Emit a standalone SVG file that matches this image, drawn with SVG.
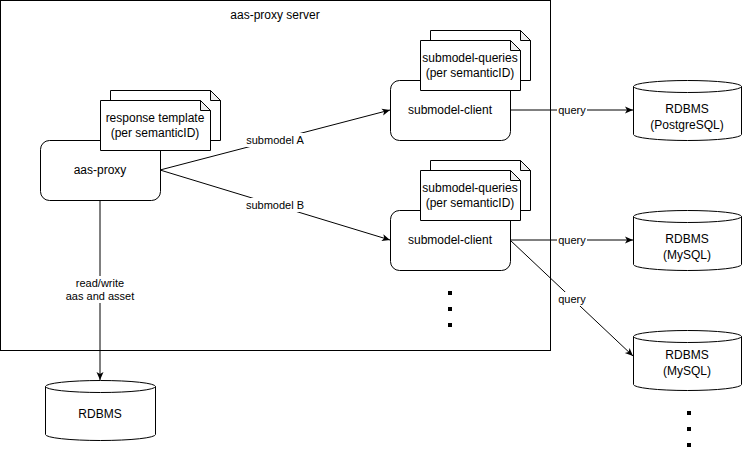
<svg xmlns="http://www.w3.org/2000/svg" width="745" height="451" viewBox="0 0 745 451">
<defs>
<style>
text{font-family:"Liberation Sans",Arial,sans-serif;fill:#000;text-anchor:middle;dominant-baseline:central}
.t12{font-size:12px}
.t11{font-size:11px}
.box{fill:#fff;stroke:#000;stroke-width:1}
.fold{fill:#f0f0f0;stroke:#000;stroke-width:1;stroke-linejoin:round}
.edge{fill:none;stroke:#000;stroke-width:1}
.lbl{fill:#fff;stroke:none}
.dot{fill:#000}
</style>
<marker id="arr" markerWidth="10" markerHeight="10" refX="9" refY="5" orient="auto" markerUnits="userSpaceOnUse">
<path d="M1,1.5 L9,5 L1,8.5 L3,5 Z" fill="#000"/>
</marker>
</defs>
<rect width="745" height="451" fill="#fff"/>

<g id="server">
<rect class="box" x="0.5" y="0.5" width="550" height="350"/>
<text class="t12" x="275" y="15">aas-proxy server</text>
</g>

<g id="connectors">
<path class="edge" d="M160,170 L390,110" marker-end="url(#arr)"/>
<path class="edge" d="M160,170 L390,240" marker-end="url(#arr)"/>
<path class="edge" d="M100,200 L100,380" marker-end="url(#arr)"/>
<path class="edge" d="M510,110 L633,110" marker-end="url(#arr)"/>
<path class="edge" d="M510,240 L633,240" marker-end="url(#arr)"/>
<path class="edge" d="M510,240 L633,356" marker-end="url(#arr)"/>
<rect class="lbl" x="246" y="133" width="58" height="14"/>
<text class="t11" x="275" y="140">submodel A</text>
<rect class="lbl" x="246" y="198" width="58" height="14"/>
<text class="t11" x="275" y="205">submodel B</text>
<rect class="lbl" x="72" y="276" width="56" height="27"/>
<text class="t11" x="100" y="283">read/write</text>
<text class="t11" x="100" y="296">aas and asset</text>
<rect class="lbl" x="557" y="103" width="30" height="14"/>
<text class="t11" x="572" y="110">query</text>
<rect class="lbl" x="557" y="233" width="30" height="14"/>
<text class="t11" x="572" y="240">query</text>
<rect class="lbl" x="557" y="292" width="30" height="14"/>
<text class="t11" x="572" y="299">query</text>
</g>

<g id="aas-proxy">
<rect class="box" x="40.5" y="140.5" width="120" height="60" rx="9"/>
<text class="t12" x="100" y="170">aas-proxy</text>
</g>

<g id="response-template">
<path class="box" d="M110.5,90.5 H210.5 L220.5,100.5 V140.5 H110.5 Z"/>
<path class="fold" d="M210.5,90.5 V100.5 H220.5 Z"/>
<path class="box" d="M100.5,100.5 H200.5 L210.5,110.5 V150.5 H100.5 Z"/>
<path class="fold" d="M200.5,100.5 V110.5 H210.5 Z"/>
<text class="t12" x="155" y="118">response template</text>
<text class="t12" x="155" y="133">(per semanticID)</text>
</g>

<g id="submodel-client-1">
<rect class="box" x="390.5" y="80.5" width="120" height="60" rx="9"/>
<text class="t12" x="450" y="110">submodel-client</text>
</g>

<g id="submodel-queries-1">
<path class="box" d="M430.5,30.5 H520.5 L530.5,40.5 V80.5 H430.5 Z"/>
<path class="fold" d="M520.5,30.5 V40.5 H530.5 Z"/>
<path class="box" d="M420.5,40.5 H510.5 L520.5,50.5 V90.5 H420.5 Z"/>
<path class="fold" d="M510.5,40.5 V50.5 H520.5 Z"/>
<text class="t12" x="470" y="58">submodel-queries</text>
<text class="t12" x="470" y="73">(per semanticID)</text>
</g>

<g id="submodel-client-2">
<rect class="box" x="390.5" y="210.5" width="120" height="60" rx="9"/>
<text class="t12" x="450" y="240">submodel-client</text>
</g>

<g id="submodel-queries-2">
<path class="box" d="M430.5,160.5 H520.5 L530.5,170.5 V210.5 H430.5 Z"/>
<path class="fold" d="M520.5,160.5 V170.5 H530.5 Z"/>
<path class="box" d="M420.5,170.5 H510.5 L520.5,180.5 V220.5 H420.5 Z"/>
<path class="fold" d="M510.5,170.5 V180.5 H520.5 Z"/>
<text class="t12" x="470" y="188">submodel-queries</text>
<text class="t12" x="470" y="203">(per semanticID)</text>
</g>

<g id="rdbms-main">
<path class="box" d="M45.5,386.5 A55,6 0 0 1 155.5,386.5 V434.5 A55,6 0 0 1 45.5,434.5 Z"/>
<path class="edge" d="M45.5,386.5 A55,6 0 0 0 155.5,386.5"/>
<text class="t12" x="100" y="414">RDBMS</text>
</g>

<g id="rdbms-postgresql">
<path class="box" d="M633.5,86.5 A54,6 0 0 1 741.5,86.5 V134.5 A54,6 0 0 1 633.5,134.5 Z"/>
<path class="edge" d="M633.5,86.5 A54,6 0 0 0 741.5,86.5"/>
<text class="t12" x="687" y="109">RDBMS</text>
<text class="t12" x="687" y="125">(PostgreSQL)</text>
</g>

<g id="rdbms-mysql-1">
<path class="box" d="M633.5,216.5 A54,6 0 0 1 741.5,216.5 V264.5 A54,6 0 0 1 633.5,264.5 Z"/>
<path class="edge" d="M633.5,216.5 A54,6 0 0 0 741.5,216.5"/>
<text class="t12" x="687" y="239">RDBMS</text>
<text class="t12" x="687" y="255">(MySQL)</text>
</g>

<g id="rdbms-mysql-2">
<path class="box" d="M633.5,336.5 A54,6 0 0 1 741.5,336.5 V384.5 A54,6 0 0 1 633.5,384.5 Z"/>
<path class="edge" d="M633.5,336.5 A54,6 0 0 0 741.5,336.5"/>
<text class="t12" x="687" y="355">RDBMS</text>
<text class="t12" x="687" y="371">(MySQL)</text>
</g>

<g id="ellipsis-1">
<rect class="dot" x="448" y="291" width="4" height="4"/>
<rect class="dot" x="448" y="307" width="4" height="4"/>
<rect class="dot" x="448" y="323" width="4" height="4"/>
</g>

<g id="ellipsis-2">
<rect class="dot" x="687" y="411" width="4" height="4"/>
<rect class="dot" x="687" y="427" width="4" height="4"/>
<rect class="dot" x="687" y="443" width="4" height="4"/>
</g>
</svg>
